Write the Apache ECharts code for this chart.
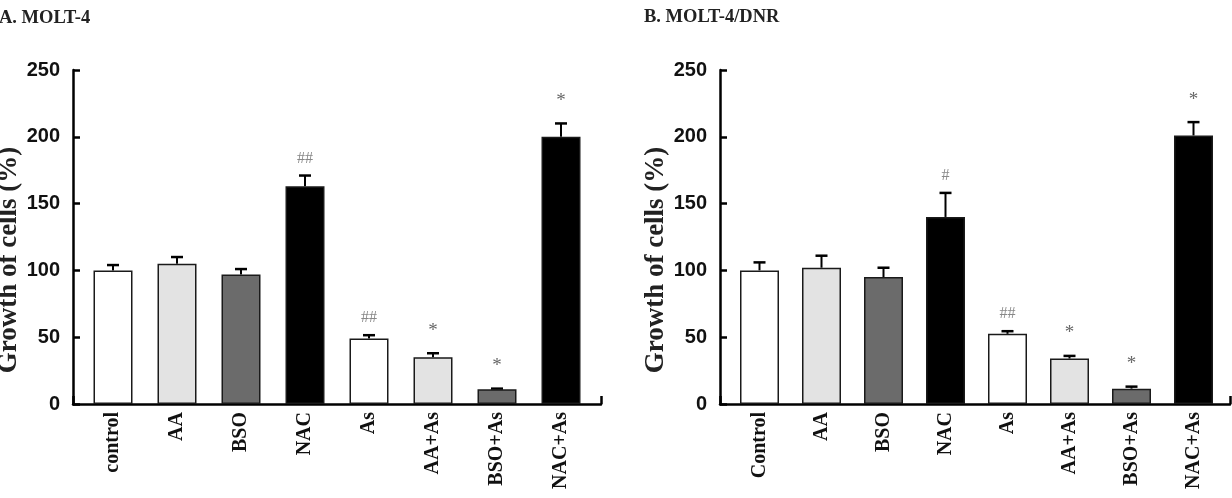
<!DOCTYPE html>
<html>
<head>
<meta charset="utf-8">
<script src="https://cdn.jsdelivr.net/npm/echarts@6/dist/echarts.min.js"></script>
<style>
  html, body { margin: 0; background: #fff; }
  #main { width: 1232px; height: 498px; }
</style>
</head>
<body>
<div id="main"></div>
<script>
// panel A: MOLT-4
const categoriesA = ['control', 'AA', 'BSO', 'NAC', 'As', 'AA+As', 'BSO+As', 'NAC+As'];
const growthA = [100, 105, 97, 163, 49, 35, 11, 200];
const errTopA = [104, 110, 101, 171, 51.5, 38, 11.5, 210];
const marksA = ['', '', '', '##', '##', '*', '*', '*'];

// panel B: MOLT-4/DNR
const categoriesB = ['Control', 'AA', 'BSO', 'NAC', 'As', 'AA+As', 'BSO+As', 'NAC+As'];
const growthB = [100, 102, 95, 140, 52.5, 34, 11.5, 201];
const errTopB = [106, 111, 102, 158, 54.5, 36, 13, 211];
const marksB = ['', '', '', '#', '##', '*', '*', '*'];

// y ticks: 0..250 step 50
const yMin = 0, yMax = 250, yStep = 50;

const fills = ['#ffffff', '#e3e3e3', '#6b6b6b', '#000000', '#ffffff', '#e3e3e3', '#6b6b6b', '#000000'];

const chart = echarts.init(document.getElementById('main'));

const serif = 'Liberation Serif';
const sans = 'Liberation Sans';

function frameX(grid) {
  return {
    gridIndex: grid, type: 'value', min: 0, max: 1, interval: 1,
    axisLine: { show: true, lineStyle: { color: '#000', width: 2.5 } },
    axisTick: { show: true, inside: true, length: 8, lineStyle: { color: '#000', width: 2.5 } },
    axisLabel: { show: false },
    splitLine: { show: false }
  };
}

function frameY(grid) {
  return {
    gridIndex: grid, type: 'value', min: yMin, max: yMax, interval: yStep,
    axisLine: { show: true, lineStyle: { color: '#000', width: 2.5 } },
    axisTick: { show: true, inside: true, length: 7, lineStyle: { color: '#000', width: 2.5 } },
    axisLabel: { fontFamily: sans, fontWeight: 'bold', fontSize: 20, color: '#111', margin: 13 },
    splitLine: { show: false },
    name: 'Growth of cells (%)',
    nameLocation: 'middle',
    nameGap: 49,
    nameTextStyle: { fontFamily: serif, fontWeight: 'bold', fontSize: 27, color: '#222', padding: [0, 46, 0, 0] }
  };
}

function barX(grid, cats) {
  return {
    gridIndex: grid, type: 'category', data: cats,
    axisLine: { show: false }, axisTick: { show: false },
    axisLabel: { rotate: 90, fontFamily: serif, fontWeight: 'bold', fontSize: 20, color: '#111', margin: 8 }
  };
}

function barY(grid) {
  return { gridIndex: grid, type: 'value', min: yMin, max: yMax, show: false };
}

function bars(axis, values) {
  return {
    type: 'bar', xAxisIndex: axis, yAxisIndex: axis, barWidth: 39,
    silent: true,
    itemStyle: { borderColor: '#1a1a1a', borderWidth: 1.5 },
    data: values.map((v, i) => ({ value: v, itemStyle: { color: fills[i] } }))
  };
}

function errors(axis, values, tops, marks) {
  return {
    type: 'custom', xAxisIndex: axis, yAxisIndex: axis, silent: true, clip: false,
    encode: { x: 0, y: 2 },
    data: values.map((v, i) => [i, v, tops[i], marks[i]]),
    renderItem: function (params, api) {
      const p0 = api.coord([api.value(0), api.value(1)]);
      const p1 = api.coord([api.value(0), api.value(2)]);
      const mark = marks[params.dataIndex];
      const star = mark === '*';
      const children = [
        { type: 'line', shape: { x1: p0[0], y1: p0[1], x2: p1[0], y2: p1[1] }, style: { stroke: '#000', lineWidth: 2 } },
        { type: 'line', shape: { x1: p1[0] - 6, y1: p1[1], x2: p1[0] + 6, y2: p1[1] }, style: { stroke: '#000', lineWidth: 2.5 } }
      ];
      if (mark) {
        children.push({
          type: 'text',
          style: {
            x: p1[0], y: p1[1] - (star ? 13 : 9), text: mark,
            align: 'center', verticalAlign: 'bottom',
            fontFamily: serif, fontSize: star ? 19 : 16,
            fill: star ? '#666' : '#888'
          }
        });
      }
      return { type: 'group', children: children };
    }
  };
}

const titleStyle = { fontFamily: serif, fontWeight: 'bold', fontSize: 18.5, color: '#222' };

const option = {
  animation: false,
  backgroundColor: '#fff',
  title: [
    { text: 'A. MOLT-4', left: -1, top: 9, padding: 0, textStyle: titleStyle },
    { text: 'B. MOLT-4/DNR', left: 644, top: 8, padding: 0, textStyle: titleStyle }
  ],
  grid: [
    { left: 73, top: 70, width: 528, height: 334, outerBoundsMode: 'none' },
    { left: 81, top: 70, width: 512, height: 334, outerBoundsMode: 'none' },
    { left: 720, top: 70, width: 510, height: 334, outerBoundsMode: 'none' },
    { left: 728.5, top: 70, width: 496, height: 334, outerBoundsMode: 'none' }
  ],
  xAxis: [frameX(0), barX(1, categoriesA), frameX(2), barX(3, categoriesB)],
  yAxis: [frameY(0), barY(1), frameY(2), barY(3)],
  series: [
    bars(1, growthA),
    errors(1, growthA, errTopA, marksA),
    bars(3, growthB),
    errors(3, growthB, errTopB, marksB)
  ]
};

chart.setOption(option);
</script>
</body>
</html>
